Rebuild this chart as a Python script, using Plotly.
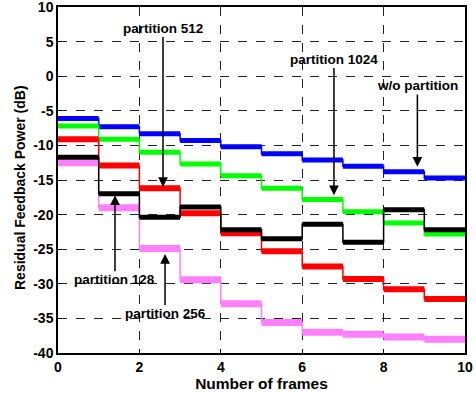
import plotly.graph_objects as go

frames = [0, 1, 2, 3, 4, 5, 6, 7, 8, 9]
wo_partition = [-6.1, -7.3, -8.3, -9.3, -10.2, -11.2, -12.1, -13.0, -13.8, -14.7]
partition_1024 = [-7.2, -9.1, -11.0, -12.7, -14.4, -16.2, -17.8, -19.6, -21.2, -22.8]
partition_512 = [-9.1, -12.9, -16.2, -19.8, -22.7, -25.3, -27.5, -29.3, -30.8, -32.2]
partition_128_black = [-11.7, -17.0, -20.4, -18.9, -22.2, -23.5, -21.4, -24.0, -19.3, -22.2]
partition_256_violet = [-12.5, -19.0, -24.9, -29.4, -32.9, -35.6, -37.0, -37.3, -37.7, -38.0]
band_width = [5, 5, 6, 7, 5]

series = [
    ("w/o partition", wo_partition, "#0000FF"),
    ("partition 1024", partition_1024, "#00FF00"),
    ("partition 512", partition_512, "#FF0000"),
    ("partition 256", partition_256_violet, "#FF80FF"),
    ("partition 128", partition_128_black, "#000000"),
]

x_ticks = [0, 2, 4, 6, 8, 10]
y_ticks = [-40, -35, -30, -25, -20, -15, -10, -5, 0, 5, 10]

annotations_data = [
    # text, arrow-tip x, arrow-tip y, text x, text y
    ("partition 512", 2.58, -16.0, 2.58, 6.9),
    ("partition 1024", 6.78, -17.2, 6.78, 2.4),
    ("w/o partition", 8.83, -13.1, 8.83, -1.4),
    ("partition 128", 1.4, -17.2, 1.4, -29.4),
    ("partition 256", 2.63, -25.7, 2.63, -34.3),
]

FONT = "Liberation Sans, Arial, sans-serif"

fig = go.Figure()
for i, (name, vals, color) in enumerate(series):
    xs_step = frames + [frames[-1] + 1]
    ys_step = vals + [vals[-1]]
    fig.add_trace(go.Scatter(x=xs_step, y=ys_step, mode="lines", line_shape="hv",
                             line=dict(color=color, width=1.5), showlegend=False, hoverinfo="skip"))
    hx, hy = [], []
    for f, v in zip(frames, vals):
        hx += [f, f + 1, None]
        hy += [v, v, None]
    fig.add_trace(go.Scatter(x=hx, y=hy, mode="lines",
                             line=dict(color=color, width=band_width[i]), name=name, showlegend=False))

for text, ax_, ay_, tx, ty in annotations_data:
    fig.add_annotation(x=ax_, y=ay_, ax=tx, ay=ty, xref="x", yref="y", axref="x", ayref="y",
                       text="", showarrow=True, arrowhead=2, arrowsize=1.3, arrowwidth=1.5,
                       arrowcolor="black", standoff=0, startstandoff=7)
    fig.add_annotation(x=tx, y=ty, xref="x", yref="y", text="<b>%s</b>" % text, showarrow=False,
                       font=dict(family=FONT, size=13.5, color="black"))

# y-axis title as a rotated annotation (slightly below plot centre, as in the reference)
fig.add_annotation(x=20, y=188, xref="paper", yref="paper", text="<b>Residual Feedback Power (dB)</b>",
                   showarrow=False, textangle=-90, xanchor="center", yanchor="middle",
                   font=dict(family=FONT, size=14, color="black"))
fig.layout.annotations[-1].update(xref="paper", yref="paper",
                                  x=(20 - 58) / (465 - 58), y=(353 - 188) / (353 - 7))

axis_common = dict(showline=True, linecolor="black", linewidth=1.5, mirror=True,
                   showgrid=True, gridcolor="#222222", griddash="dash", gridwidth=1,
                   zeroline=False, ticks="inside", ticklen=4, tickcolor="black",
                   automargin=False, ticklabeloverflow="allow",
                   tickfont=dict(family=FONT, size=14, color="black"))

fig.update_xaxes(range=[0, 10], tickvals=x_ticks, ticktext=["<b>%d</b>" % v for v in x_ticks],
                 title=dict(text="<b>Number of frames</b>", standoff=2,
                            font=dict(family=FONT, size=15.5, color="black")),
                 **axis_common)
fig.update_yaxes(range=[-40, 10], tickvals=y_ticks, ticktext=["<b>%d</b>" % v for v in y_ticks],
                 **axis_common)

fig.update_layout(width=476, height=393, margin=dict(l=58, r=11, t=7, b=40),
                  plot_bgcolor="white", paper_bgcolor="white", showlegend=False)

fig.write_html("out.html", config={"displayModeBar": False},
               post_script="document.body.style.margin='0';")
